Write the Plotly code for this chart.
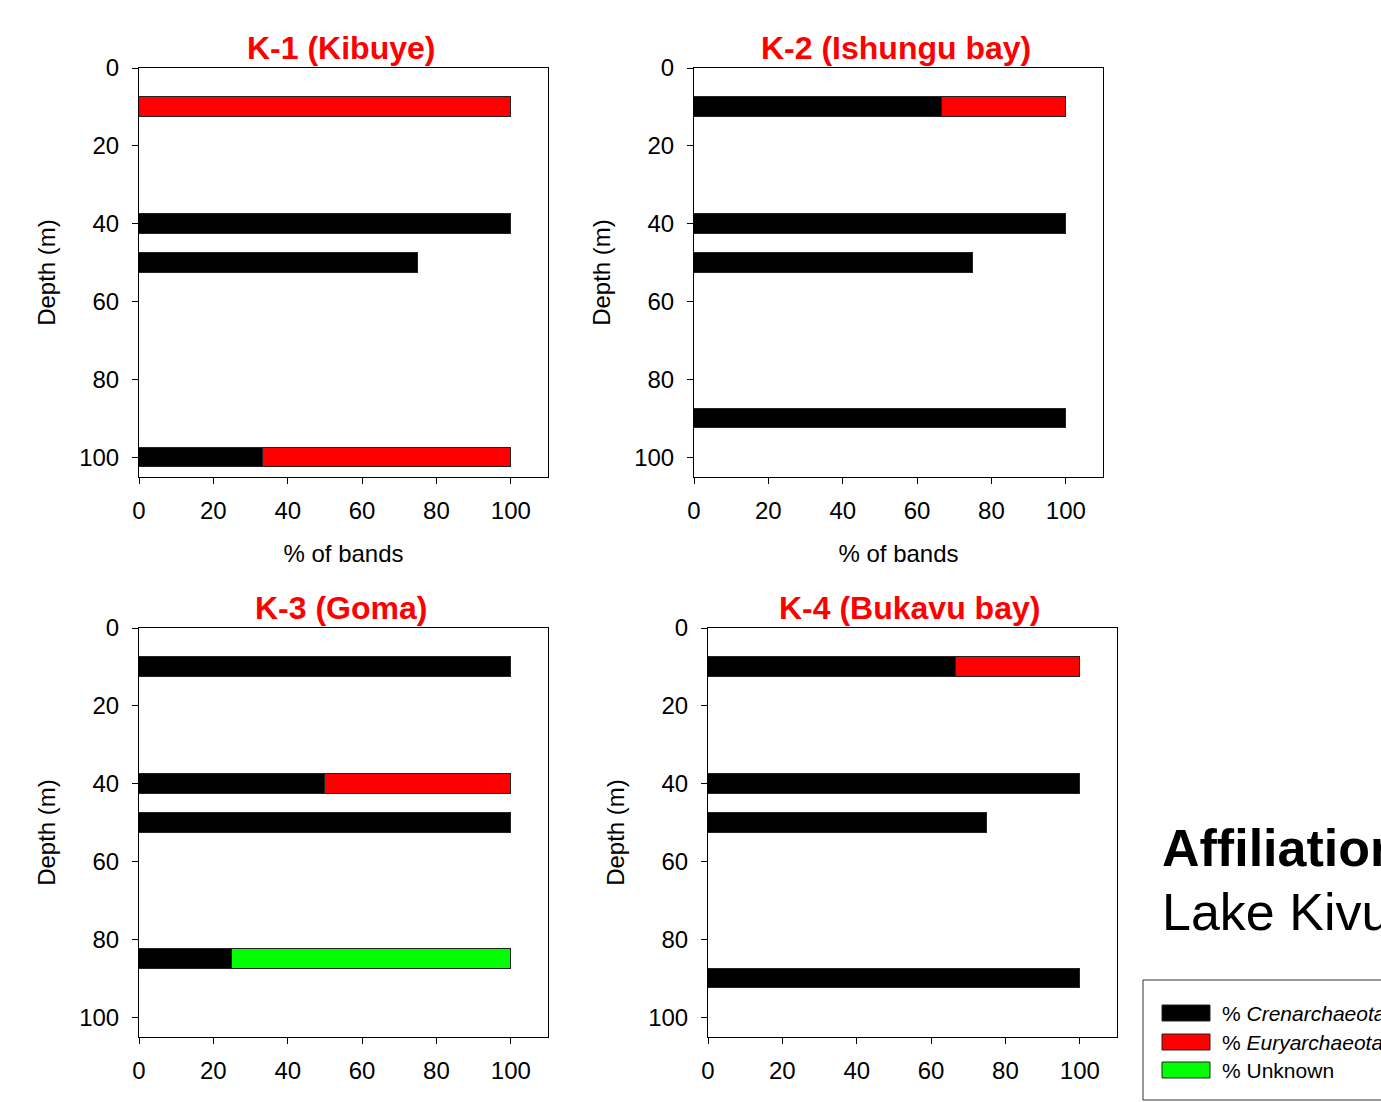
import plotly.graph_objects as go

W, H = 1381, 1102

# ---------------- data ----------------
panel_titles = ["K-1 (Kibuye)", "K-2 (Ishungu bay)", "K-3 (Goma)", "K-4 (Bukavu bay)"]
series_names = ["% <i>Crenarchaeota</i>", "% <i>Euryarchaeota</i>", "% Unknown"]
series_colors = ["#000000", "#ff0000", "#00ff00"]

k1_depth = [10, 40, 50, 100]
k1_cren = [None, 100, 75, 33.3]
k1_eury = [100, None, None, 66.7]
k1_unk = [None, None, None, None]

k2_depth = [10, 40, 50, 90]
k2_cren = [66.7, 100, 75, 100]
k2_eury = [33.3, None, None, None]
k2_unk = [None, None, None, None]

k3_depth = [10, 40, 50, 85]
k3_cren = [100, 50, 100, 25]
k3_eury = [None, 50, None, None]
k3_unk = [None, None, None, 75]

k4_depth = [10, 40, 50, 90]
k4_cren = [66.7, 100, 75, 100]
k4_eury = [33.3, None, None, None]
k4_unk = [None, None, None, None]

x_ticks = [0, 20, 40, 60, 80, 100]
y_ticks = [0, 20, 40, 60, 80, 100]

panels = [
    (k1_depth, [k1_cren, k1_eury, k1_unk]),
    (k2_depth, [k2_cren, k2_eury, k2_unk]),
    (k3_depth, [k3_cren, k3_eury, k3_unk]),
    (k4_depth, [k4_cren, k4_eury, k4_unk]),
]

# ---------------- layout helpers (pixel -> paper) ----------------
def px(x):
    return x / W

def py(y):
    return 1 - y / H

# panel boxes in pixels: (left, right, top, bottom)
boxes = [
    (139, 548, 68, 477),
    (694, 1103, 68, 477),
    (139, 548, 628, 1037),
    (708, 1117, 628, 1037),
]

FONT = "Liberation Sans, Arial, Helvetica, sans-serif"

fig = go.Figure()
layout = dict(
    width=W, height=H, autosize=False,
    margin=dict(l=0, r=0, t=0, b=0, pad=0, autoexpand=False),
    paper_bgcolor="white", plot_bgcolor="white",
    barmode="stack", bargap=0, showlegend=False,
    font=dict(family=FONT, size=24, color="black"),
)

annotations = []
shapes = []

for i, ((depth, vals), (l, r, t, b)) in enumerate(zip(panels, boxes)):
    xa = "x" if i == 0 else f"x{i+1}"
    ya = "y" if i == 0 else f"y{i+1}"
    for name, col, v in zip(series_names, series_colors, vals):
        fig.add_trace(go.Bar(
            x=v, y=depth, orientation="h", width=5, name=name,
            marker=dict(color=col, line=dict(color="#222222", width=1)),
            xaxis=xa, yaxis=ya, showlegend=False, hoverinfo="x+y+name",
        ))
    xkey = "xaxis" if i == 0 else f"xaxis{i+1}"
    ykey = "yaxis" if i == 0 else f"yaxis{i+1}"
    layout[xkey] = dict(
        domain=[px(l), px(r)], anchor=ya, range=[0, 110], automargin=False,
        tickvals=x_ticks, ticks="outside", ticklen=6, tickcolor="black",
        showline=True, linecolor="black", linewidth=1, mirror=True,
        showgrid=False, zeroline=False, ticklabelstandoff=6,
        tickfont=dict(size=24),
        title=dict(text="% of bands" if i < 2 else "", font=dict(size=24), standoff=22),
    )
    layout[ykey] = dict(
        domain=[py(b), py(t)], anchor=xa, range=[105, 0], automargin=False,
        tickvals=y_ticks, ticks="outside", ticklen=6, tickcolor="black",
        showline=True, linecolor="black", linewidth=1, mirror=True,
        showgrid=False, zeroline=False, ticklabelstandoff=8,
        tickfont=dict(size=24),
        title=dict(text="Depth (m)", font=dict(size=24), standoff=16),
    )
    annotations.append(dict(
        text=f"<b>{panel_titles[i]}</b>", xref="paper", yref="paper",
        x=px((l + r) / 2 - 3), y=py(t), xanchor="center", yanchor="bottom",
        showarrow=False, font=dict(size=32, color="#ff0000"),
    ))

# side title
annotations.append(dict(
    text="<b>Affiliation</b>", xref="paper", yref="paper",
    x=px(1160), y=py(848), xanchor="left", yanchor="middle",
    showarrow=False, font=dict(size=52, color="black"),
))
annotations.append(dict(
    text="Lake Kivu", xref="paper", yref="paper",
    x=px(1160), y=py(912), xanchor="left", yanchor="middle",
    showarrow=False, font=dict(size=52, color="black"),
))

# legend box
shapes.append(dict(
    type="rect", xref="paper", yref="paper",
    x0=px(1143), x1=px(1400), y0=py(1100), y1=py(980),
    line=dict(color="#333333", width=1), fillcolor="white", layer="below",
))
leg_y = [1013, 1042, 1070]
for name, col, yc in zip(series_names, series_colors, leg_y):
    shapes.append(dict(
        type="rect", xref="paper", yref="paper",
        x0=px(1162), x1=px(1210), y0=py(yc + 8), y1=py(yc - 8),
        line=dict(color="#222222", width=1), fillcolor=col,
    ))
    annotations.append(dict(
        text=name, xref="paper", yref="paper",
        x=px(1220), y=py(yc), xanchor="left", yanchor="middle",
        showarrow=False, font=dict(size=21, color="black"),
    ))

layout["annotations"] = annotations
layout["shapes"] = shapes
fig.update_layout(**layout)

fig.write_html(
    "out.html",
    config={"displayModeBar": False, "responsive": False},
    post_script="document.body.style.margin='0';document.body.style.overflow='hidden';",
)
